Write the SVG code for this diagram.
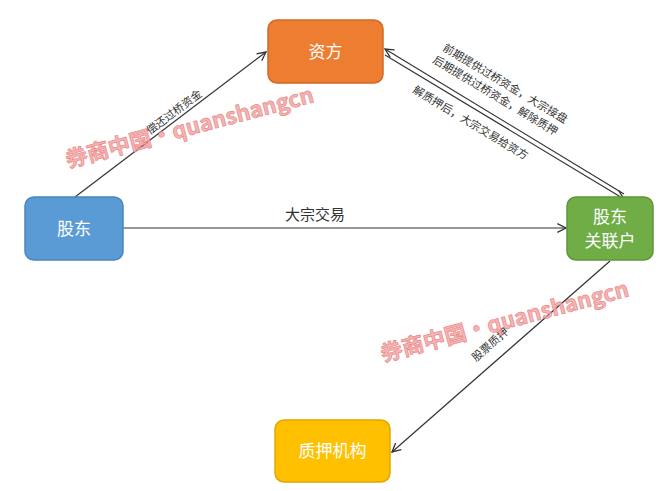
<svg xmlns="http://www.w3.org/2000/svg" width="660" height="491" viewBox="0 0 660 491">
<style>
.box{stroke-width:1.5}
.nt{font-family:"Noto Sans CJK SC","Liberation Sans",sans-serif;font-size:17px;fill:#fff;text-anchor:middle}
.lt{font-family:"Noto Sans CJK SC","Liberation Sans",sans-serif;font-size:11px;fill:#333}
.ln{stroke:#333;stroke-width:1.2;fill:none}
.wm{font-family:"Noto Sans CJK SC","Liberation Sans",sans-serif;font-size:22px;font-weight:bold;fill:#f2a7a7;stroke:#e86a6a;stroke-width:0.6;opacity:0.85}
</style>
<defs>
<marker id="a" viewBox="0 0 10 10" refX="9" refY="5" markerWidth="9" markerHeight="9" orient="auto"><path d="M1,1 L9,5 L1,9" fill="none" stroke="#333" stroke-width="1.2"/></marker>
</defs>
<rect width="660" height="491" fill="#fff"/>
<g id="connectors">
<line class="ln" x1="75" y1="197" x2="266" y2="52" marker-end="url(#a)"/>
<line class="ln" x1="123" y1="228" x2="566" y2="228" marker-end="url(#a)"/>
<line class="ln" x1="624" y1="194" x2="385" y2="49" marker-end="url(#a)"/>
<line class="ln" x1="385" y1="55" x2="624" y2="199" marker-end="url(#a)"/>
<line class="ln" x1="610" y1="261" x2="392" y2="452" marker-end="url(#a)"/>
<text class="lt" transform="translate(150,135) rotate(-37)">偿还过桥资金</text>
<text class="lt" x="315" y="220" style="font-size:15px" text-anchor="middle">大宗交易</text>
<text class="lt" transform="translate(442,50) rotate(31)">前期提供过桥资金，大宗接盘</text>
<text class="lt" transform="translate(432,62) rotate(31)">后期提供过桥资金，解除质押</text>
<text class="lt" transform="translate(412,92) rotate(31)">解质押后，大宗交易给资方</text>
<text class="lt" transform="translate(476,362) rotate(-41)">股票质押</text>
</g>
<g id="zifang"><rect class="box" x="268" y="20" width="115" height="63" rx="9" fill="#ED7D31" stroke="#D06A24"/><text class="nt" x="325.5" y="58">资方</text></g>
<g id="gudong"><rect class="box" x="25" y="197" width="98" height="63" rx="9" fill="#5B9BD5" stroke="#4A86BE"/><text class="nt" x="74" y="235">股东</text></g>
<g id="guanlian"><rect class="box" x="567" y="197" width="86" height="63" rx="9" fill="#70AD47" stroke="#5E9638"/><text class="nt" x="610" y="223">股东</text><text class="nt" x="610" y="247">关联户</text></g>
<g id="zhiya"><rect class="box" x="275" y="420" width="115" height="62" rx="9" fill="#FFC000" stroke="#E0A800"/><text class="nt" x="332.5" y="457">质押机构</text></g>
<g id="watermark">
<text class="wm" transform="translate(68,168) rotate(-15)">券商中国·quanshangcn</text>
<text class="wm" transform="translate(383,362) rotate(-15)">券商中国·quanshangcn</text>
</g>
</svg>
